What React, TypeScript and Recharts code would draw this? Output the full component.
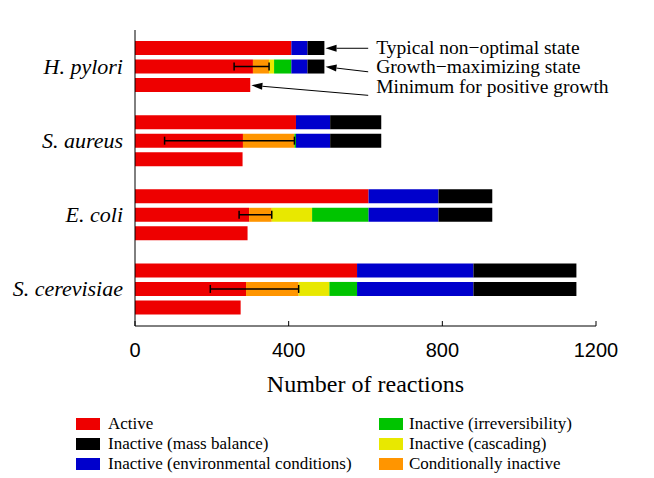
import React from "react"
import { BarChart, Bar, XAxis, YAxis, ErrorBar, ReferenceLine, Label } from "recharts"

const organisms = ["H. pylori", "S. aureus", "E. coli", "S. cerevisiae"]
const states = ["typical", "growth", "minimum"]

// one value per bar: organism x state (typical, growth-maximizing, minimum)
const active = [407, 307, 300, 419, 281, 280, 608, 297, 293, 578, 289, 275]
const conditional = [0, 42, 0, 0, 134, 0, 0, 59, 0, 0, 137, 0]
const cascading = [0, 13, 0, 0, 0, 0, 0, 105, 0, 0, 80, 0]
const irreversibility = [0, 45, 0, 0, 4, 0, 0, 147, 0, 0, 72, 0]
const environmental = [42, 42, 0, 89, 89, 0, 182, 182, 0, 303, 303, 0]
const massBalance = [44, 44, 0, 133, 133, 0, 140, 140, 0, 268, 268, 0]
// left end of the error bar on each growth-maximizing bar
const errorLow = [258, 77, 271, 196]
const xTicks = [0, 400, 800, 1200]

const annotationX = 607
const annotations = [
  { text: "Typical non\u2212optimal state", state: "typical", tailDy: 0, textDy: 5.5 },
  { text: "Growth\u2212maximizing state", state: "growth", tailDy: 5, textDy: 6.5 },
  { text: "Minimum for positive growth", state: "minimum", tailDy: 10, textDy: 8 },
]

const COLORS = {
  active: "#EE0000",
  conditional: "#FF9500",
  cascading: "#E8E800",
  irreversibility: "#00C400",
  environmental: "#0000CC",
  massBalance: "#000000",
}

const legendItems = [
  { label: "Active", color: COLORS.active, col: 0 },
  { label: "Inactive (mass balance)", color: COLORS.massBalance, col: 0 },
  { label: "Inactive (environmental conditions)", color: COLORS.environmental, col: 0 },
  { label: "Inactive (irreversibility)", color: COLORS.irreversibility, col: 1 },
  { label: "Inactive (cascading)", color: COLORS.cascading, col: 1 },
  { label: "Conditionally inactive", color: COLORS.conditional, col: 1 },
]

const SERIF = '"Liberation Serif", "Times New Roman", serif'
const SANS = '"Liberation Sans", Arial, sans-serif'

const rows: any[] = []
organisms.forEach((org, o) => {
  states.forEach((st, s) => {
    const i = o * 3 + s
    rows.push({
      row: `${org}|${st}`,
      active: active[i],
      conditional: conditional[i],
      cascading: cascading[i],
      irreversibility: irreversibility[i],
      environmental: environmental[i],
      massBalance: massBalance[i],
      err: st === "growth" ? [active[i] + conditional[i] - errorLow[o], 0] : undefined,
    })
  })
  if (o < organisms.length - 1) rows.push({ row: `gap${o}` })
})

const total = (i: number) =>
  active[i] + conditional[i] + cascading[i] + irreversibility[i] + environmental[i] + massBalance[i]

function OrgTick(props: any) {
  const { x, y, payload } = props
  const v: string = payload.value
  if (!v.endsWith("|growth")) return null
  return (
    <text x={x - 4} y={y + 7} textAnchor="end" fontFamily={SERIF} fontStyle="italic" fontSize={22} fill="#000">
      {v.split("|")[0]}
    </text>
  )
}

function XTick(props: any) {
  const { x, y, payload } = props
  return (
    <g>
      <line x1={x} y1={y} x2={x} y2={y - 5} stroke="#000" strokeWidth={1} />
      <text x={x} y={y + 31} textAnchor="middle" fontFamily={SANS} fontSize={20} fill="#000">
        {payload.value}
      </text>
    </g>
  )
}

function Arrow(props: any) {
  const { x1, y1, x2, y2, text, tailDy, textDy } = props
  if (x1 == null || y1 == null) return null
  const ty = y2 + tailDy
  const ang = Math.atan2(ty - y1, x2 - x1)
  const len = 11
  const hw = 3.5
  const bx = x1 + len * Math.cos(ang)
  const by = y1 + len * Math.sin(ang)
  const px = -Math.sin(ang) * hw
  const py = Math.cos(ang) * hw
  return (
    <g>
      <line x1={bx} y1={by} x2={x2} y2={ty} stroke="#000" strokeWidth={1} />
      <polygon points={`${x1},${y1} ${bx + px},${by + py} ${bx - px},${by - py}`} fill="#000" />
      <text x={x2 + 8} y={y2 + textDy} fontFamily={SERIF} fontSize={19.5} fill="#000">
        {text}
      </text>
    </g>
  )
}

export default function App() {
  return (
    <div style={{ position: "absolute", left: 0, top: 0, width: 654, height: 478, background: "#fff" }}>
      <BarChart
        width={654}
        height={400}
        data={rows}
        layout="vertical"
        margin={{ top: 30, right: 58, bottom: 0, left: 0 }}
        barSize={14}
      >
        <XAxis
          type="number"
          domain={[0, 1200]}
          ticks={xTicks}
          tickLine={false}
          tickSize={0}
          tickMargin={0}
          height={74}
          axisLine={{ stroke: "#000" }}
          tick={<XTick />}
        >
          <Label
            value="Number of reactions"
            position="insideBottom"
            offset={8}
            style={{ fontFamily: SERIF, fontSize: 24, fill: "#000" }}
          />
        </XAxis>
        <YAxis
          type="category"
          dataKey="row"
          width={135}
          interval={0}
          tickLine={false}
          axisLine={{ stroke: "#000" }}
          padding={{ top: 9, bottom: 9 }}
          tick={<OrgTick />}
        />
        <Bar dataKey="active" stackId="a" fill={COLORS.active} isAnimationActive={false} />
        <Bar dataKey="conditional" stackId="a" fill={COLORS.conditional} isAnimationActive={false}>
          <ErrorBar dataKey="err" direction="x" width={4} stroke="#000" strokeWidth={1.5} />
        </Bar>
        <Bar dataKey="cascading" stackId="a" fill={COLORS.cascading} isAnimationActive={false} />
        <Bar dataKey="irreversibility" stackId="a" fill={COLORS.irreversibility} isAnimationActive={false} />
        <Bar dataKey="environmental" stackId="a" fill={COLORS.environmental} isAnimationActive={false} />
        <Bar dataKey="massBalance" stackId="a" fill={COLORS.massBalance} isAnimationActive={false} />
        {annotations.map((a, k) => {
          const i = states.indexOf(a.state)
          const rowKey = `${organisms[0]}|${a.state}`
          return (
            <ReferenceLine
              key={k}
              ifOverflow="visible"
              segment={[
                { x: total(i) + 3, y: rowKey },
                { x: annotationX, y: rowKey },
              ]}
              shape={(p: any) => <Arrow {...p} text={a.text} tailDy={a.tailDy} textDy={a.textDy} />}
            />
          )
        })}
      </BarChart>
      {legendItems.map((it, k) => {
        const r = k % 3
        const left = it.col === 0 ? 76 : 379
        return (
          <div
            key={it.label}
            style={{
              position: "absolute",
              left,
              top: 414 + r * 20,
              height: 20,
              display: "flex",
              alignItems: "center",
              fontFamily: SERIF,
              fontSize: 17,
              whiteSpace: "nowrap",
            }}
          >
            <span style={{ display: "inline-block", width: 24, height: 12, background: it.color, marginRight: it.col === 0 ? 8 : 6 }} />
            {it.label}
          </div>
        )
      })}
    </div>
  )
}
